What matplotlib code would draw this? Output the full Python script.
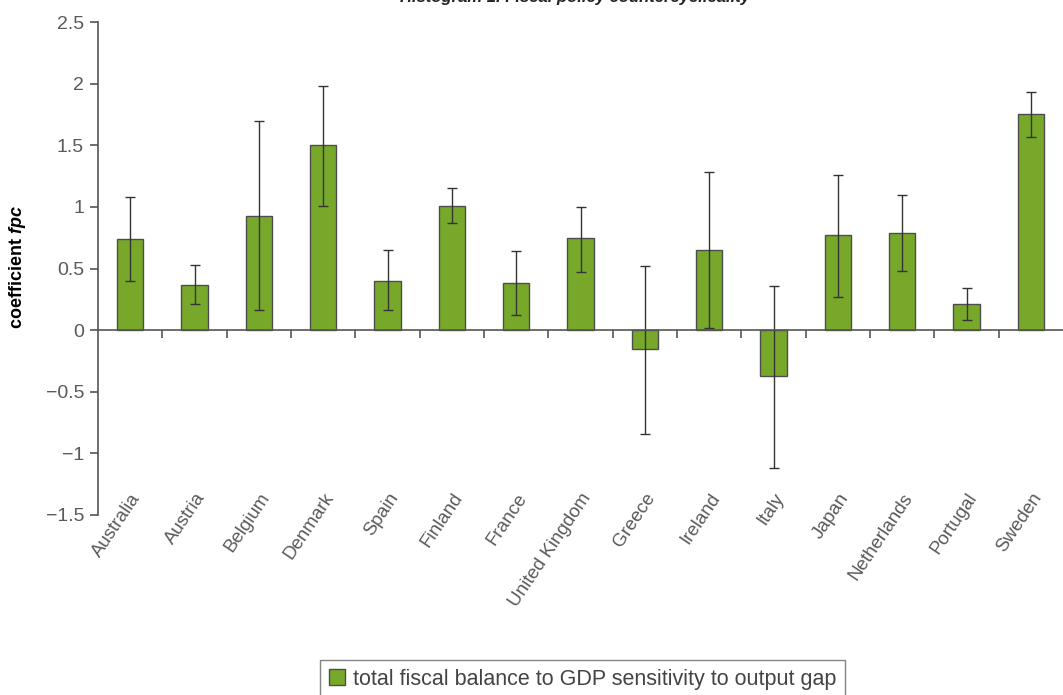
import matplotlib
matplotlib.use("Agg")
import matplotlib.pyplot as plt
import numpy as np

# coefficient estimates and their confidence bounds, by country
countries = ["Australia", "Austria", "Belgium", "Denmark", "Spain", "Finland",
             "France", "United Kingdom", "Greece", "Ireland", "Italy", "Japan",
             "Netherlands", "Portugal", "Sweden"]
coef = [0.74, 0.37, 0.93, 1.50, 0.40, 1.01, 0.38, 0.75, -0.15, 0.65, -0.37,
        0.77, 0.79, 0.21, 1.75]
lower = [0.40, 0.21, 0.16, 1.01, 0.16, 0.87, 0.12, 0.47, -0.84, 0.02, -1.12,
         0.27, 0.48, 0.08, 1.57]
upper = [1.08, 0.53, 1.70, 1.98, 0.65, 1.15, 0.64, 1.00, 0.52, 1.28, 0.36,
         1.26, 1.10, 0.34, 1.93]
yticks = [-1.5, -1, -0.5, 0, 0.5, 1, 1.5, 2, 2.5]
ytick_labels = ["\u22121.5", "\u22121", "\u22120.5", "0", "0.5", "1", "1.5", "2", "2.5"]

bar_color = "#78a82a"
axis_grey = "#555555"
text_grey = "#5a5a5a"

plt.rcParams["mathtext.fontset"] = "custom"
plt.rcParams["mathtext.bfit"] = "Liberation Sans:italic:bold"
plt.rcParams["mathtext.bf"] = "Liberation Sans:bold"

fig = plt.figure(figsize=(10.63, 6.95), dpi=100)
ax = fig.add_axes([0.0922, 0.259, 0.9078, 0.7093])

x = np.arange(len(countries))
c = np.array(coef)
yerr = np.vstack([c - np.array(lower), np.array(upper) - c])
ax.bar(x, c, width=0.41, color=bar_color, edgecolor="#4d4d4d", linewidth=1.0,
       label="total fiscal balance to GDP sensitivity to output gap", zorder=2)
ax.errorbar(x, c, yerr=yerr, fmt="none", ecolor="#333333", elinewidth=1.0,
            capsize=3.5, capthick=1.0, zorder=3)

ax.set_xlim(-0.5, len(countries) - 0.5)
ax.set_ylim(-1.5, 2.5)

# axis styling
for s in ["top", "right"]:
    ax.spines[s].set_visible(False)
ax.spines["left"].set_color(axis_grey)
ax.spines["left"].set_linewidth(1.2)
ax.spines["bottom"].set_position(("data", 0))
ax.spines["bottom"].set_color(axis_grey)
ax.spines["bottom"].set_linewidth(1.2)
ax.spines["bottom"].set_zorder(4)

ax.set_yticks(yticks)
ax.set_yticklabels(ytick_labels, family="Liberation Sans", fontsize=14,
                   color=text_grey)
ax.tick_params(axis="y", direction="out", length=6, width=1.2, color=axis_grey, pad=4)

ax.set_xticks(x)
ax.set_xticklabels([])
ax.tick_params(axis="x", which="major", length=0)
ax.set_xticks(x[:-1] + 0.5, minor=True)
ax.tick_params(axis="x", which="minor", direction="out", length=6, width=1.2,
               color=axis_grey)

# country names sit below the plotting area
sec = ax.secondary_xaxis("bottom")
sec.spines["bottom"].set_visible(False)
sec.set_xticks(x)
sec.set_xticklabels(countries, rotation=56, ha="right", va="top",
                    rotation_mode="anchor", family="Liberation Sans",
                    fontsize=13.5, color=text_grey)
sec.tick_params(axis="x", length=0, pad=-18)

ax.set_ylabel("coefficient $\\mathbfit{fpc}$", fontsize=13, fontweight="bold",
              family="Liberation Sans")
ax.yaxis.set_label_coords(-0.0725, 0.503)

fig.text(0.541, 0.993, "Histogram 1. Fiscal policy countercyclicality",
         ha="center", va="bottom", fontsize=12, fontweight="bold",
         fontstyle="italic", family="Liberation Sans", color="#222222")

leg = fig.legend(loc="lower center", bbox_to_anchor=(0.548, -0.02), ncol=1,
                 frameon=True, fancybox=False, handlelength=0.75,
                 handleheight=0.75, handletextpad=0.35, borderpad=0.4,
                 prop={"family": "Liberation Sans", "size": 15.5})
leg.get_frame().set_edgecolor("#666666")
leg.get_frame().set_linewidth(1.0)
for t in leg.get_texts():
    t.set_color("#444444")

fig.savefig("out.png", dpi=100)
